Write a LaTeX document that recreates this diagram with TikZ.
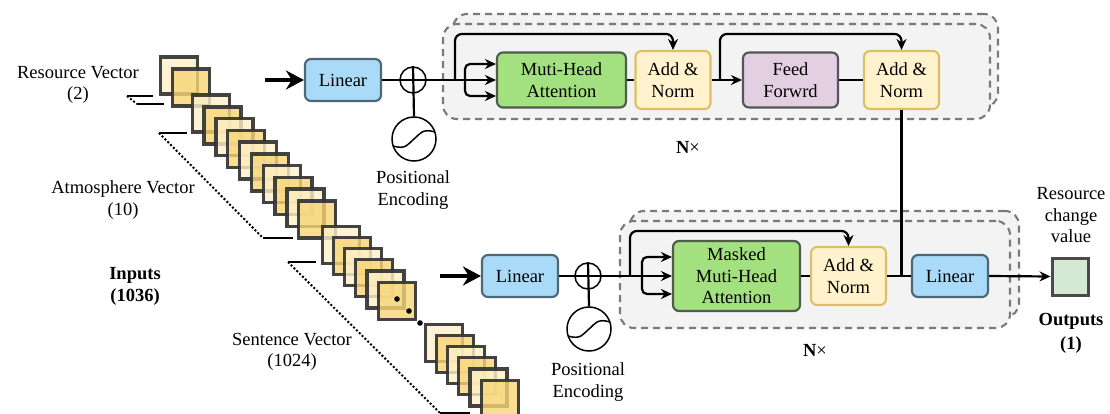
\documentclass[tikz,border=0pt]{standalone}
\usepackage{fontspec}
\setmainfont{Liberation Serif}
\usetikzlibrary{arrows.meta,calc}
\definecolor{linblue}{HTML}{A9DBF8}
\definecolor{linbd}{HTML}{4F6675}
\definecolor{mhag}{HTML}{A3E07F}
\definecolor{mhabd}{HTML}{4D5C4D}
\definecolor{anfill}{HTML}{FFF2CC}
\definecolor{anbd}{HTML}{DDBF66}
\definecolor{fffill}{HTML}{E3CFE2}
\definecolor{ffbd}{HTML}{555555}
\definecolor{outfill}{HTML}{D5E8D4}
\definecolor{outbd}{HTML}{4A4A4A}
\definecolor{contfill}{HTML}{F3F3F3}
\definecolor{contbd}{HTML}{7A7A7A}
\definecolor{sqlight}{HTML}{FDF0C9}
\definecolor{sqdark}{HTML}{F8D676}
\definecolor{sqline}{HTML}{333333}
\begin{document}
\begin{tikzpicture}[x=1pt,y=-1pt,
  every node/.style={font=\fontsize{18.5}{21.5}\selectfont},
  box/.style={rectangle, rounded corners=6pt, line width=2.1pt, align=center, inner sep=0pt},
  linbox/.style={box, fill=linblue, draw=linbd, minimum width=76pt, minimum height=42pt},
  mhabox/.style={box, fill=mhag, draw=mhabd, minimum width=129pt, minimum height=55pt},
  anbox/.style={box, fill=anfill, draw=anbd, minimum width=75pt, minimum height=58pt},
  ffbox/.style={box, fill=fffill, draw=ffbd, minimum width=95pt, minimum height=55pt},
  outbox/.style={rectangle, fill=outfill, draw=outbd, line width=3pt, minimum width=36pt, minimum height=37pt, inner sep=0pt},
  cont/.style={rectangle, rounded corners=14pt, draw=contbd, fill=contfill, dash pattern=on 7pt off 5pt, line width=2.1pt, inner sep=0pt},
  plusnode/.style={circle, draw=black, line width=1.5pt, minimum size=26pt, inner sep=0pt},
  sinnode/.style={circle, draw=black, line width=1.5pt, minimum size=44pt, inner sep=0pt},
  txt/.style={align=center, inner sep=0pt},
  sqbase/.style={rectangle, minimum size=37pt, inner sep=0pt, anchor=north west, draw=sqline, line width=3.3pt, draw opacity=0.92, fill opacity=0.8},
  sqL/.style={sqbase, fill=sqlight},
  sqD/.style={sqbase, fill=sqdark},
  conn/.style={line width=2.2pt},
  arr/.style={conn, -{Stealth[length=11pt, width=10pt]}},
  bigarr/.style={line width=4pt, -{Stealth[length=18pt, width=19pt]}},
  lead/.style={line width=2.2pt},
  dotlead/.style={line width=2pt, dotted}
]
\useasboundingbox (0,0) rectangle (1110,414);

% ---------- containers ----------
\node[cont, minimum width=545pt, minimum height=93pt] (cTb) at (725.5,60.5) {};
\node[cont, minimum width=547pt, minimum height=95pt] (cTa) at (716.5,71.5) {};
\node[cont, minimum width=389pt, minimum height=106pt] (cBb) at (824.5,264) {};
\node[cont, minimum width=390pt, minimum height=107pt] (cBa) at (815,274.5) {};

% ---------- input stacks ----------
\node[sqL] (r0) at (158.5,55.5) {};
\node[sqD] (r1) at (170.5,67.5) {};
\foreach \i/\st in {0/sqL,1/sqD,2/sqL,3/sqD,4/sqL,5/sqD,6/sqL,7/sqD,8/sqL,9/sqD}
  \node[\st] (a\i) at ({190.5+11.85*\i},{93.5+11.75*\i}) {};
\foreach \i/\st in {0/sqL,1/sqD,2/sqL,3/sqD,4/sqL,5/sqD}
  \node[\st] (s\i) at ({320.5+11.2*\i},{224.5+11.2*\i}) {};
\foreach \i/\st in {0/sqL,1/sqD,2/sqL,3/sqD,4/sqL,5/sqD}
  \node[\st] (t\i) at ({423.5+11.2*\i},{322.5+11.2*\i}) {};
\fill (397,299) circle (2.8pt) (409,311) circle (2.8pt) (420,323) circle (2.8pt);

% leaders
\draw[lead] (127,96) -- (153,96);
\draw[dotlead] (127,96) -- (137,104);
\draw[lead] (137,104) -- (164,104);
\draw[lead] (159,133) -- (187,133);
\draw[dotlead] (159,133) -- (263,238);
\draw[lead] (263,238) -- (293,238);
\draw[lead] (288,262) -- (316,262);
\draw[dotlead] (288,262) -- (440,413);
\draw[lead] (440,413) -- (470,413);

% input labels
\node[txt] (lres) at (78,85) {Resource Vector\\(2)};
\node[txt] (latm) at (123,200) {Atmosphere Vector\\(10)};
\node[txt] (lsen) at (292,352) {Sentence Vector\\(1024)};
\node[txt, font=\fontsize{18.5}{22}\selectfont\bfseries] (linp) at (135,286) {Inputs\\(1036)};

% ---------- top row ----------
\node[linbox] (linT) at (343,80) {Linear};
\node[plusnode] (plusT) at (413,80) {};
\node[sinnode] (sinT) at (414,139) {};
\node[txt] (peT) at (413,190) {Positional\\Encoding};
\node[mhabox] (mhaT) at (561.5,80) {Muti-Head\\Attention};
\node[anbox] (an1) at (673,80) {Add \&\\Norm};
\node[ffbox] (ff) at (790.5,80) {Feed\\Forwrd};
\node[anbox] (an2) at (901.5,80) {Add \&\\Norm};
\node[txt] (nxT) at (688,147) {\textbf{N}×};

\coordinate (inT) at (265,80);
\coordinate (sk1) at (455,80);
\coordinate (brT) at (465,80);
\coordinate (sk2) at (720,80);

\draw[bigarr] (inT) -- (linT.west);
\draw[arr] (linT.east) -- (mhaT.west);
\draw[conn] (plusT.north) -- (sinT.north);
\draw[arr, rounded corners=5pt] (brT) |- ($(mhaT.west)+(0,-16)$);
\draw[arr, rounded corners=5pt] (brT) |- ($(mhaT.west)+(0,16)$);
\draw[arr, rounded corners=7pt] (sk1) |- ($(an1.north)+(0,-16)$) -- (an1.north);
\draw[conn] (mhaT.east) -- (an1.west);
\draw[arr] (an1.east) -- (ff.west);
\draw[arr, rounded corners=7pt] (sk2) |- ($(an2.north)+(0,-16)$) -- (an2.north);
\draw[conn] (ff.east) -- (an2.west);
\draw[line width=1.5pt] ($(sinT)+(-21,7)$) .. controls ($(sinT)+(-8,11)$) and ($(sinT)+(-6,5)$) .. (sinT.center) .. controls ($(sinT)+(6,-5)$) and ($(sinT)+(8,-11)$) .. ($(sinT)+(21,-7)$);

% ---------- bottom row ----------
\node[linbox] (linB) at (520,276) {Linear};
\node[plusnode] (plusB) at (588,276) {};
\node[sinnode] (sinB) at (589,329) {};
\node[txt] (peB) at (588,382) {Positional\\Encoding};
\node[mhabox, minimum width=127pt, minimum height=70pt] (mmha) at (736.5,276) {Masked\\Muti-Head\\Attention};
\node[anbox] (an3) at (848.5,276) {Add \&\\Norm};
\node[linbox] (linO) at (950,276) {Linear};
\node[outbox] (outv) at (1070,276.5) {};
\node[txt] (nxB) at (815,350) {\textbf{N}×};
\node[txt] (lrcv) at (1071,215.5) {Resource\\change\\value};
\node[txt, font=\fontsize{18.5}{24}\selectfont\bfseries] (lout) at (1071,333) {Outputs\\(1)};

\coordinate (inB) at (440,276);
\coordinate (sk3) at (630,276);
\coordinate (brB) at (642,276);
\coordinate (jn) at (an2.south |- linO.west);

\draw[bigarr] (inB) -- (linB.west);
\draw[arr] (linB.east) -- (mmha.west);
\draw[conn] (plusB.north) -- (sinB.north);
\draw[arr, rounded corners=5pt] (brB) |- ($(mmha.west)+(0,-19)$);
\draw[arr, rounded corners=5pt] (brB) |- ($(mmha.west)+(0,18)$);
\draw[arr, rounded corners=7pt] (sk3) |- ($(an3.north)+(0,-15)$) -- (an3.north);
\draw[conn] (mmha.east) -- (an3.west);
\draw[conn] (an3.east) -- (linO.west);
\draw[conn] (an2.south) -- (jn);
\draw[arr] (linO.east) -- (outv.west);
\draw[line width=1.5pt] ($(sinB)+(-21,7)$) .. controls ($(sinB)+(-8,11)$) and ($(sinB)+(-6,5)$) .. (sinB.center) .. controls ($(sinB)+(6,-5)$) and ($(sinB)+(8,-11)$) .. ($(sinB)+(21,-7)$);
\end{tikzpicture}
\end{document}
